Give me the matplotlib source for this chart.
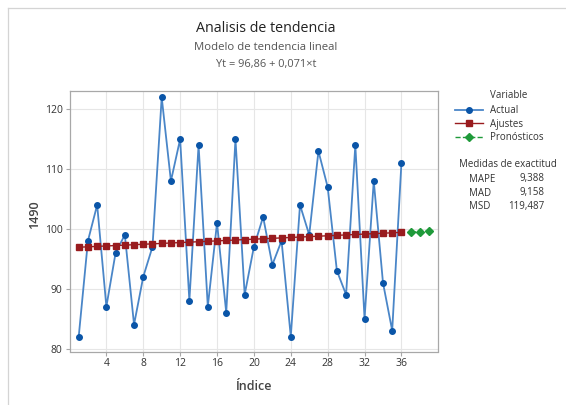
import numpy as np
import matplotlib
matplotlib.use("Agg")
import matplotlib.pyplot as plt
from matplotlib.lines import Line2D

plt.rcParams['font.family'] = ['Open Sans', 'DejaVu Sans']

# Data
index = list(range(1, 37))
actual = [82, 98, 104, 87, 96, 99, 84, 92, 97, 122, 108, 115,
          88, 114, 87, 101, 86, 115, 89, 97, 102, 94, 98, 82,
          104, 99, 113, 107, 93, 89, 114, 85, 108, 91, 83, 111]
fits = [96.931, 97.002, 97.073, 97.144, 97.215, 97.286, 97.357, 97.428,
        97.499, 97.570, 97.641, 97.712, 97.783, 97.854, 97.925, 97.996,
        98.067, 98.138, 98.209, 98.280, 98.351, 98.422, 98.493, 98.564,
        98.635, 98.706, 98.777, 98.848, 98.919, 98.990, 99.061, 99.132,
        99.203, 99.274, 99.345, 99.416]
fc_index = [37, 38, 39]
forecast = [99.487, 99.558, 99.629]

x_ticks = [4, 8, 12, 16, 20, 24, 28, 32, 36]
y_ticks = [80, 90, 100, 110, 120]
stat_names = ['MAPE', 'MAD', 'MSD']
stat_values = ['9,388', '9,158', '119,487']

W, H = 566, 405
fig = plt.figure(figsize=(W / 100, H / 100), dpi=100)

def fx(px):
    return px / W

def fy(py):
    return 1 - py / H

# outer frame (only left/top visible in reference)
fig.add_artist(Line2D([fx(7.5), fx(7.5)], [fy(7.5), 0], color='#d4d4d4', lw=0.9))
fig.add_artist(Line2D([fx(7.5), 1], [fy(7.5), fy(7.5)], color='#d4d4d4', lw=0.9))

ax = fig.add_axes([fx(69.5), fy(351.5), fx(438.3) - fx(69.5), fy(91) - fy(351.5)])

blue = '#0a55a8'
red = '#991b1e'
green = '#1f9a3a'

l_act, = ax.plot(index, actual, color='#4a86c8', lw=1.3, marker='o', ms=4,
                 mfc=blue, mec=blue, label='Actual', zorder=3)
l_fit, = ax.plot(index, fits, color=red, lw=1.0, marker='s', ms=4,
                 mfc=red, mec=red, label='Ajustes', zorder=4)
l_fc, = ax.plot(fc_index, forecast, color=green, lw=1.0, ls='--', marker='D', ms=3.8,
                mfc=green, mec=green, label='Pronósticos', zorder=4)

ax.set_xlim(0, 40)
ax.set_ylim(79.5, 123.05)
ax.set_xticks(x_ticks)
ax.set_yticks(y_ticks)
ax.grid(True, color='#e6e6e6', lw=0.8)
ax.set_axisbelow(True)
for s in ax.spines.values():
    s.set_color('#a8a8a8')
    s.set_linewidth(0.9)
ax.tick_params(length=3, width=0.8, color='#a8a8a8', labelsize=7.5,
               labelcolor='#333333', pad=2)

# titles
fig.text(fx(266), fy(29), 'Analisis de tendencia', ha='center', va='center',
         fontsize=10.3, color='#222222')
fig.text(fx(266), fy(47), 'Modelo de tendencia lineal', ha='center', va='center',
         fontsize=8.2, color='#555555')
fig.text(fx(266), fy(64), 'Yt = 96,86 + 0,071×t', ha='center', va='center',
         fontsize=7.9, color='#555555')

fig.text(fx(35), fy(215), '1490', rotation=90, ha='center', va='center',
         fontsize=9, color='#444444', fontweight='semibold')
fig.text(fx(254), fy(387), 'Índice', ha='center', va='center',
         fontsize=9, color='#444444', fontweight='semibold')

# legend
fig.text(fx(490), fy(95), 'Variable', ha='left', va='center', fontsize=7, color='#333333')
fig.legend(handles=[l_act, l_fit, l_fc], loc='upper left',
           bbox_to_anchor=(fx(455), fy(105)), frameon=False, fontsize=7,
           handlelength=2.88, handletextpad=0.72, labelspacing=0.28, borderpad=0,
           borderaxespad=0, labelcolor='#333333')

# accuracy measures
fig.text(fx(459), fy(164), 'Medidas de exactitud', ha='left', va='center',
         fontsize=7, color='#333333')
for i, (name, val) in enumerate(zip(stat_names, stat_values)):
    yy = fy(179 + i * 14)
    fig.text(fx(469), yy, name, ha='left', va='center', fontsize=7, color='#333333')
    fig.text(fx(544), yy, val, ha='right', va='center', fontsize=7, color='#333333')

fig.savefig('out.png', dpi=100)
